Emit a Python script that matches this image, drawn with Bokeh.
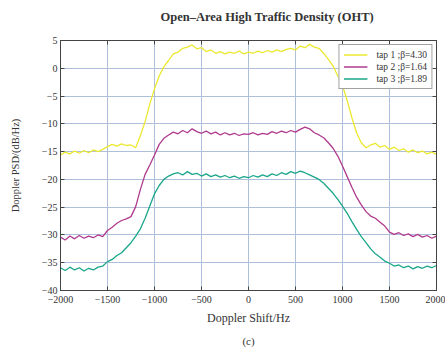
from bokeh.plotting import figure
from bokeh.models import LinearAxis, Title, Legend, LegendItem, FixedTicker, Range1d
from bokeh.embed import file_html
from bokeh.resources import INLINE

freq = list(range(-2000, 2001, 50))

tap1 = [-15.6, -15.1, -15.4, -14.9, -15.3, -14.8, -15.2, -14.7, -15.0, -14.6,
        -14.1, -13.7, -14.0, -13.6, -13.9, -13.8, -14.3, -12.1, -9.6, -6.4,
        -3.7, -1.4, 0.3, 1.4, 2.6, 2.9, 3.6, 3.8, 4.2, 3.5,
        3.7, 3.0, 3.3, 2.7, 3.0, 2.6, 2.9, 2.7, 3.1, 2.6,
        2.9,
        2.7, 3.1, 2.8, 3.2, 2.9, 3.3, 3.0, 3.4, 3.6, 3.3,
        4.0, 3.7, 4.3, 3.8, 3.6, 2.7, 1.6, 0.4, -1.4, -3.1,
        -5.8, -8.9, -11.6, -13.4, -14.3, -13.8, -13.5, -14.2, -13.9, -14.6,
        -14.2, -14.8, -14.5, -15.1, -14.7, -15.2, -14.9, -15.4, -15.1, -15.5]

tap2 = [-30.4, -30.9, -30.2, -30.7, -30.1, -30.6, -30.2, -30.5, -30.0, -30.3,
        -29.2, -28.6, -27.9, -27.4, -27.1, -26.7, -24.9, -21.8, -19.1, -17.4,
        -15.6, -13.7, -12.6, -12.0, -11.5, -11.8, -11.2, -11.6, -10.9, -11.4,
        -11.7, -11.3, -11.8, -11.5, -12.0, -11.6, -12.0, -11.7, -12.1, -11.8,
        -11.9,
        -11.6, -12.0, -11.7, -11.9, -11.4, -11.7, -11.3, -11.6, -11.2, -11.5,
        -11.0, -10.6, -10.9, -11.6, -12.0, -12.5, -13.4, -14.4, -15.8, -17.6,
        -19.5, -21.4, -23.2, -24.6, -25.8, -26.6, -27.0, -27.7, -28.4, -29.5,
        -29.9, -29.6, -30.1, -29.8, -30.3, -29.9, -30.4, -30.1, -30.6, -30.2]

tap3 = [-35.9, -36.4, -35.8, -36.3, -35.9, -36.5, -36.0, -36.3, -35.8, -35.6,
        -34.8, -34.4, -33.7, -33.2, -32.3, -31.4, -30.2, -28.9, -27.0, -24.8,
        -22.6, -21.1, -20.0, -19.4, -19.0, -18.8, -19.2, -18.6, -19.1, -18.9,
        -19.4, -19.0, -19.5, -19.2, -19.6, -19.3, -19.7, -19.4, -19.8, -19.5,
        -19.7,
        -19.3, -19.6, -19.2, -19.5, -19.0, -19.3, -18.8, -19.1, -18.6, -18.9,
        -18.5, -18.8, -19.2, -19.6, -20.0, -20.7, -21.6, -22.5, -23.6, -24.8,
        -26.1, -27.6, -29.0, -30.3, -31.4, -32.5, -33.4, -34.0, -34.7, -35.1,
        -35.6, -35.4, -35.9, -35.6, -36.1, -35.7, -36.0, -35.6, -35.9, -35.5]

series_labels = ["tap 1 ;\u03b2=4.30", "tap 2 ;\u03b2=1.64", "tap 3 ;\u03b2=1.89"]
series_colors = ["#ece830", "#b03a8e", "#1aa68a"]
x_ticks = [-2000, -1500, -1000, -500, 0, 500, 1000, 1500, 2000]
y_ticks = [5, 0, -5, -10, -15, -20, -25, -30, -35, -40]
title_text = "Open\u2013Area High Traffic Density (OHT)"
x_label = "Doppler Shift/Hz"
y_label = "Doppler PSD/(dB/Hz)"
caption = "(c)"

FONT = "Liberation Serif"

p = figure(width=445, height=351, output_backend="svg", toolbar_location=None,
           x_range=Range1d(-2000, 2000), y_range=Range1d(-40, 5),
           min_border_left=60, min_border_right=9, min_border_top=40, min_border_bottom=53)
p.title = None
p.outline_line_color = "#444444"
p.outline_line_width = 1
p.background_fill_color = "white"
p.border_fill_color = "white"

renderers = []
for ys, c in zip([tap1, tap2, tap3], series_colors):
    r = p.line(freq, ys, line_color=c, line_width=1.3)
    renderers.append(r)

for ax in p.xaxis + p.yaxis:
    ax.major_label_text_font = FONT
    ax.major_label_text_font_size = "10px"
    ax.major_label_text_color = "#333333"
    ax.axis_label_text_font = FONT
    ax.axis_label_text_font_style = "normal"
    ax.axis_label_text_color = "#333333"
    ax.major_tick_in = 4
    ax.major_tick_out = 0
    ax.minor_tick_in = 0
    ax.minor_tick_out = 0
    ax.axis_line_color = "#444444"
    ax.major_tick_line_color = "#444444"

p.xaxis.ticker = FixedTicker(ticks=x_ticks)
p.yaxis.ticker = FixedTicker(ticks=y_ticks)
p.xaxis.axis_label = x_label
p.yaxis.axis_label = y_label
p.xaxis.axis_label_text_font_size = "12px"
p.yaxis.axis_label_text_font_size = "10.5px"
p.xaxis.major_label_standoff = 5
p.yaxis.major_label_standoff = 3
p.xaxis.axis_label_standoff = 5
p.yaxis.axis_label_standoff = 18

# tick marks only (no labels) on the top and right edges
for place in ["above", "right"]:
    ax = LinearAxis(ticker=FixedTicker(ticks=[], minor_ticks=x_ticks if place == "above" else y_ticks),
                    major_tick_in=0, major_tick_out=0,
                    minor_tick_in=4, minor_tick_out=0, axis_line_color="#444444",
                    minor_tick_line_color="#444444", major_label_standoff=0)
    p.add_layout(ax, place)

p.xgrid.ticker = FixedTicker(ticks=x_ticks)
p.ygrid.ticker = FixedTicker(ticks=y_ticks)
p.grid.grid_line_color = "#aebfdc"
p.grid.grid_line_width = 1

legend = Legend(items=[LegendItem(label=l, renderers=[r]) for l, r in zip(series_labels, renderers)],
                location="top_right", label_text_font=FONT, label_text_font_size="9.5px",
                label_text_color="#333333", glyph_width=24, glyph_height=11,
                label_height=11, label_standoff=9, spacing=1, padding=4, margin=4,
                border_line_color="#444444", border_line_width=1,
                background_fill_color="white", background_fill_alpha=1.0)
p.add_layout(legend)

t = Title(text=title_text + "\n", align="left", offset=100,
          text_font=FONT, text_font_size="12.5px", text_font_style="bold",
          text_line_height=0.85, text_color="#333333")
p.add_layout(t, "above")

c = Title(text=caption, align="center", text_font=FONT, text_font_size="11px",
          text_font_style="normal", text_color="#333333")
p.add_layout(c, "below")

open("out.html", "w").write(file_html(p, INLINE))
